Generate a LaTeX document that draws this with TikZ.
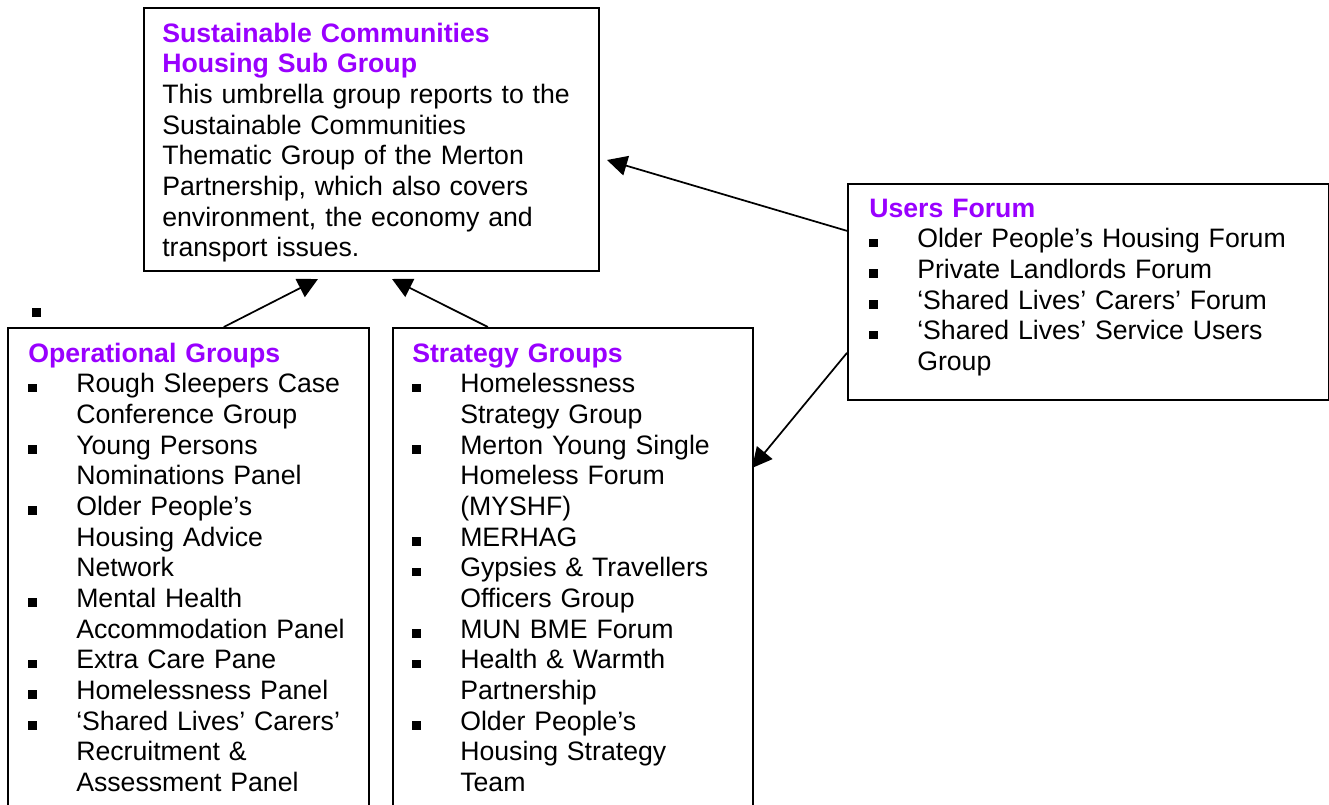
\documentclass[tikz,border=0pt]{standalone}
\usepackage{fontspec}
\setmainfont{Liberation Sans}
\usetikzlibrary{arrows.meta}
\definecolor{ttl}{RGB}{153,0,255}
\newcommand\bitem[1]{\par\noindent\hangindent=36pt\hangafter=1\makebox[36pt][l]{\raisebox{0.4pt}{\rule{6.6pt}{6.6pt}}}#1\par}
\newcommand\ttlline[1]{\noindent\strut{\bfseries\color{ttl}#1}}
\begin{document}
\begin{tikzpicture}[x=0.75pt,y=-0.75pt,
  box/.style={draw=black, line width=1.3pt, anchor=north west, inner sep=0pt},
  txt/.style={anchor=north west, inner sep=0pt, text width=340pt,
    font=\fontsize{20}{23}\selectfont},
  arr/.style={line width=1.3pt, -{Triangle[length=15pt,width=15pt]}}]
\useasboundingbox (0,0) rectangle (1329,805);
% boxes
\node[box, minimum width=341.25pt, minimum height=197.25pt] (top) at (143,7) {};
\node[box, minimum width=360.75pt, minimum height=162pt] (users) at (847,183) {};
\node[box, minimum width=270.75pt, minimum height=363.75pt] (op) at (7,327) {};
\node[box, minimum width=270pt, minimum height=363.75pt] (strat) at (392,327) {};
\node[fill=black, minimum size=6.6pt, inner sep=0pt] (stray) at (36.5,312.5) {};
% texts
\node[txt] (toptxt) at (162,20.5) {\ttlline{Sustainable Communities}\newline
{\bfseries\color{ttl}Housing Sub Group}\newline
This umbrella group reports to the\newline
Sustainable Communities\newline
Thematic Group of the Merton\newline
Partnership, which also covers\newline
environment, the economy and\newline
transport issues.};
\node[txt] (userstxt) at (869,195.5) {\ttlline{Users Forum}
\bitem{Older People’s Housing Forum}
\bitem{Private Landlords Forum}
\bitem{‘Shared Lives’ Carers’ Forum}
\bitem{‘Shared Lives’ Service Users\newline Group}};
\node[txt] (optxt) at (28,340.5) {\ttlline{Operational Groups}
\bitem{Rough Sleepers Case\newline Conference Group}
\bitem{Young Persons\newline Nominations Panel}
\bitem{Older People’s\newline Housing Advice\newline Network}
\bitem{Mental Health\newline Accommodation Panel}
\bitem{Extra Care Pane}
\bitem{Homelessness Panel}
\bitem{‘Shared Lives’ Carers’\newline Recruitment \&\newline Assessment Panel}};
\node[txt] (strattxt) at (412,340.5) {\ttlline{Strategy Groups}
\bitem{Homelessness\newline Strategy Group}
\bitem{Merton Young Single\newline Homeless Forum\newline (MYSHF)}
\bitem{MERHAG}
\bitem{Gypsies \& Travellers\newline Officers Group}
\bitem{MUN BME Forum}
\bitem{Health \& Warmth\newline Partnership}
\bitem{Older People’s\newline Housing Strategy\newline Team}};
% arrow tips
\coordinate (tA) at (607,160);
\coordinate (tB) at (752,468);
\coordinate (tC) at (318,279);
\coordinate (tD) at (392,279);
% connectors
\draw[arr] ([yshift=45.75pt]users.west) -- (tA);
\draw[arr] ([yshift=-45.75pt]users.west) -- (tB);
\draw[arr] ([xshift=26.6pt]op.north) -- (tC);
\draw[arr] ([xshift=-63.75pt]strat.north) -- (tD);
\end{tikzpicture}
\end{document}
